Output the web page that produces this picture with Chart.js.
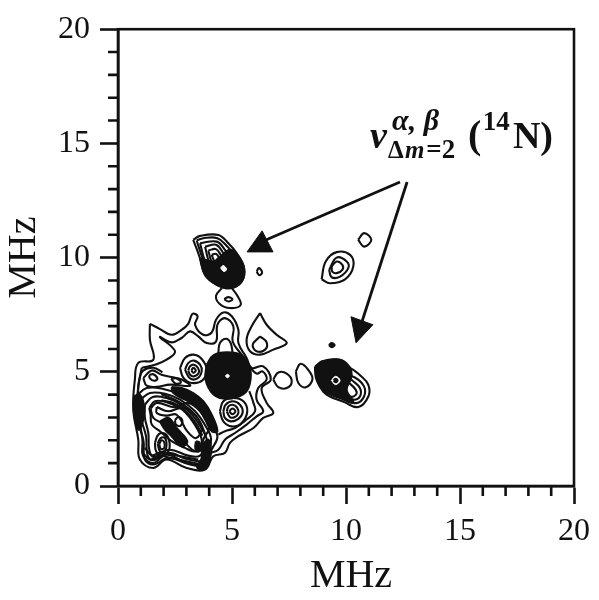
<!DOCTYPE html>
<html>
<head>
<meta charset="utf-8">
<title>MHz contour</title>
<script src="https://cdn.jsdelivr.net/npm/chart.js@4"></script>
<style>
  html, body { margin: 0; padding: 0; background: #fff; }
  canvas { display: block; }
</style>
</head>
<body>
<canvas id="grafico" width="599" height="600"></canvas>
<script>
// axis values
const majorTicks = [0, 5, 10, 15, 20];
const minorTicks = [1, 2, 3, 4, 6, 7, 8, 9, 11, 12, 13, 14, 16, 17, 18, 19];
const axisTitle = 'MHz';

// contour lines, [MHz, MHz]
// low frequency region
const outerContour = [[1.40,7.10],[1.84,6.87],[2.35,6.62],[2.79,6.84],[3.08,7.10],[3.27,7.54],[3.49,7.43],[3.38,7.06],[3.74,6.62],[4.11,6.72],[4.30,7.28],[4.62,7.60],[4.99,7.43],[5.28,6.84],[5.28,6.26],[5.64,5.60],[5.86,5.17],[6.37,5.24],[6.70,4.66],[6.30,4.29],[6.52,3.64],[6.81,3.20],[6.37,2.98],[5.94,2.54],[5.28,2.18],[4.91,1.89],[4.69,1.45],[4.18,1.30],[3.82,0.72],[3.01,0.79],[2.13,1.16],[1.55,0.79],[0.96,1.16],[0.89,2.03],[0.67,3.34],[0.74,4.66],[0.89,5.39],[1.55,5.53],[1.40,6.40],[1.40,7.10]];
const secondContour = [[1.04,5.17],[1.62,5.31],[2.13,5.53],[2.50,5.90],[1.84,6.52],[2.35,6.29],[2.79,6.48],[3.16,6.77],[3.52,6.55],[3.89,6.26],[4.30,6.33],[4.36,7.06],[4.69,7.35],[5.06,6.99],[5.03,6.33],[5.42,5.75],[5.72,5.31],[6.08,4.92],[6.34,5.02],[6.52,4.66],[6.15,4.29],[6.08,3.78],[6.37,3.27],[6.08,3.05],[5.64,2.69],[5.13,2.32],[4.69,2.03],[4.40,1.59],[3.96,1.38],[3.67,0.94],[3.01,1.01],[2.13,1.37],[1.55,1.01],[1.11,1.30],[1.07,2.03],[0.89,3.34],[0.89,4.36],[1.04,5.17]];
const rightInner = [[5.76,4.15],[5.94,3.64],[6.01,3.27],[5.64,2.91],[5.13,2.54],[4.69,2.40],[4.40,2.25]];
const aboveBlob = [[4.40,5.82],[4.47,6.26],[4.74,6.45],[4.94,6.26],[5.03,5.82]];
const leftEdge = [[0.85,4.00],[0.95,4.70],[1.10,5.05],[1.55,5.18],[1.95,4.98]];
const leftLobe = [[1.11,4.73],[1.48,5.06],[1.91,4.87],[2.35,4.77],[2.79,4.66],[3.16,4.39],[2.28,4.44],[1.70,4.34],[1.26,4.39],[1.11,4.73]];
const leftSpot = [[1.37,4.86],[1.55,4.89],[1.73,4.69],[1.58,4.61],[1.40,4.71],[1.37,4.86]];
const midSpot = [[2.33,4.69],[2.57,4.71],[2.76,4.54],[2.53,4.48],[2.33,4.69]];
const peakA1 = [[2.72,5.17],[2.94,5.60],[3.30,5.75],[3.67,5.56],[3.89,5.09],[3.71,4.63],[3.23,4.51],[2.87,4.73],[2.72,5.17]];
const peakA2 = [[2.94,5.09],[3.08,5.38],[3.33,5.49],[3.60,5.31],[3.67,5.02],[3.48,4.71],[3.16,4.71],[2.94,5.09]];
const peakA3 = [[3.08,5.06],[3.16,5.24],[3.33,5.31],[3.51,5.17],[3.54,4.95],[3.33,4.80],[3.16,4.87],[3.08,5.06]];
const peakA4 = [[3.22,5.06],[3.30,5.17],[3.41,5.06],[3.30,4.96],[3.22,5.06]];
const peakB1 = [[4.47,3.27],[4.62,3.71],[5.06,3.85],[5.50,3.71],[5.67,3.27],[5.42,2.76],[4.99,2.61],[4.62,2.83],[4.47,3.27]];
const peakB2 = [[4.62,3.27],[4.72,3.56],[5.03,3.71],[5.35,3.56],[5.47,3.23],[5.28,2.94],[4.94,2.83],[4.69,2.98],[4.62,3.27]];
const peakB3 = [[4.77,3.27],[4.85,3.49],[5.06,3.55],[5.23,3.42],[5.28,3.20],[5.13,3.02],[4.91,3.02],[4.77,3.27]];
const peakB4 = [[4.88,3.27],[5.01,3.39],[5.15,3.27],[5.01,3.14],[4.88,3.27]];
const rightRing = [[6.81,4.66],[7.03,4.97],[7.40,4.92],[7.62,4.58],[7.40,4.29],[7.03,4.33],[6.81,4.66]];
const triangleOuter = [[6.23,7.57],[6.52,7.06],[6.96,6.62],[7.40,6.26],[6.81,5.97],[6.23,5.75],[5.79,5.90],[5.64,6.41],[5.86,6.99],[6.23,7.57]];
const triangleInner = [[6.23,6.55],[6.52,6.29],[6.45,5.97],[6.08,5.90],[5.91,6.19],[6.23,6.55]];
const peakC1 = [[1.62,1.89],[1.77,2.25],[2.06,2.29],[2.25,1.96],[2.21,1.52],[1.91,1.33],[1.67,1.52],[1.62,1.89]];
const peakC2 = [[1.74,1.86],[1.87,2.10],[2.06,2.10],[2.13,1.81],[2.06,1.56],[1.84,1.52],[1.74,1.86]];
const peakC3 = [[1.81,1.84],[1.91,2.00],[2.03,1.91],[2.03,1.67],[1.88,1.62],[1.81,1.84]];
const holeRing = [[2.50,2.88],[2.65,3.02],[2.82,2.88],[2.75,2.64],[2.54,2.69],[2.50,2.88]];
const ringA = [[0.79,3.93],[1.26,4.29],[1.99,4.25],[2.72,4.00],[3.45,3.49],[4.04,2.76],[4.36,2.18],[4.11,1.59],[3.89,0.94],[3.16,0.94],[2.21,1.23],[1.55,0.94],[1.18,1.16],[1.11,2.03],[0.79,3.05],[0.79,3.93]];
const ringB = [[0.99,3.78],[1.40,4.07],[2.06,4.04],[2.72,3.78],[3.38,3.27],[3.89,2.54],[4.08,2.03],[3.82,1.16],[3.08,1.16],[2.21,1.45],[1.55,1.13],[1.29,1.37],[1.23,2.18],[0.99,3.05],[0.99,3.78]];
const ringC = [[1.18,3.56],[1.52,3.90],[2.13,3.85],[2.75,3.56],[3.28,3.08],[3.74,2.40],[3.89,1.96],[3.60,1.33],[3.08,1.33],[2.25,1.59],[1.55,1.27],[1.37,1.59],[1.33,2.32],[1.18,2.98],[1.18,3.56]];
const ringD = [[1.37,3.42],[1.62,3.71],[2.16,3.66],[2.79,3.37],[3.16,2.98],[3.57,2.32],[3.67,1.89],[3.38,1.52],[2.94,1.67],[2.35,1.96],[1.84,2.40],[1.48,2.69],[1.43,3.12],[1.37,3.42]];
const ringE = [[1.43,3.39],[1.70,3.64],[2.50,3.45],[3.08,3.64],[3.60,3.27],[4.01,2.62],[3.74,2.03],[3.67,1.60],[3.38,1.52],[2.94,1.89],[2.43,2.40],[1.92,2.76],[1.55,2.98],[1.43,3.39]];
const holeContour = [[1.70,3.46],[2.21,3.27],[2.79,3.42],[3.30,3.20],[3.67,2.54],[3.42,2.10],[3.04,2.39],[2.57,3.12],[2.13,3.08],[1.70,3.20],[1.70,3.46]];
const bottomWave1 = [[1.04,1.52],[1.40,1.16],[1.84,1.31],[2.43,1.20],[3.08,1.06],[3.52,0.97]];
const bottomWave2 = [[1.18,1.67],[1.48,1.35],[1.84,1.45],[2.50,1.35],[3.08,1.23],[3.52,1.16]];
const bandUp1 = [[1.90,4.02],[2.60,3.72],[3.15,3.35],[3.60,2.80],[3.85,2.20]];
const bandUp2 = [[1.90,3.75],[2.50,3.60],[3.05,3.20],[3.45,2.70],[3.70,2.20]];

// upper left peak
const upperOuter = [[3.30,10.78],[3.60,10.95],[4.40,10.99],[4.84,10.63],[5.21,10.19],[5.53,9.54],[5.42,8.95],[4.91,8.66],[4.33,8.81],[3.82,9.24],[3.57,10.05],[3.30,10.78]];
const upperRing2 = [[3.45,10.75],[3.74,10.85],[4.36,10.85],[4.77,10.51],[5.13,10.05],[5.28,9.46],[4.91,8.81],[4.18,9.03],[3.74,9.90],[3.45,10.75]];
const upperRing3 = [[3.60,10.63],[4.33,10.70],[4.69,10.34],[5.06,9.75],[4.77,9.03],[4.18,9.17],[3.82,9.83],[3.60,10.63]];
const upperRing4 = [[3.82,10.48],[4.30,10.56],[4.62,10.19],[4.91,9.68],[4.62,9.17],[4.18,9.39],[3.96,9.90],[3.82,10.48]];
const upperRing5 = [[3.96,10.31],[4.30,10.37],[4.55,10.05],[4.84,9.68],[4.55,9.24],[4.18,9.61],[3.96,10.31]];
const upperRing6 = [[4.11,10.12],[4.30,10.16],[4.50,9.90],[4.77,9.61],[4.55,9.32],[4.26,9.75],[4.11,10.12]];
const neckLobe = [[4.55,8.66],[4.30,8.33],[4.45,7.98],[4.91,7.79],[5.38,7.93],[5.21,8.37],[4.99,8.66]];
const neckInner = [[4.66,8.18],[4.84,8.27],[5.02,8.18],[4.84,8.08],[4.66,8.18]];
const tinySpot = [[6.08,9.39],[6.18,9.54],[6.32,9.35],[6.20,9.23],[6.08,9.39]];

// isolated peaks on the right
const midOuter = [[8.93,9.05],[9.11,9.83],[9.59,10.24],[10.18,10.12],[10.32,9.61],[9.96,9.05],[9.30,8.88],[8.93,9.05]];
const midRing = [[9.26,9.46],[9.59,10.00],[10.03,9.83],[10.10,9.54],[9.74,9.17],[9.37,9.14],[9.26,9.46]];
const midInner = [[9.37,9.61],[9.59,9.83],[9.84,9.68],[9.84,9.46],[9.59,9.32],[9.40,9.39],[9.37,9.61]];
const smallRing = [[10.53,10.78],[10.80,11.07],[11.11,10.78],[10.80,10.48],[10.53,10.78]];

// lower right peak
const lowerRing1 = [[8.93,5.45],[9.73,5.53],[10.14,5.21],[10.64,4.83],[10.98,4.43],[10.98,3.92],[10.54,3.46],[9.95,3.66],[9.00,4.14],[8.64,5.16],[8.93,5.45]];
const lowerRing2 = [[9.73,5.00],[10.39,4.75],[10.79,4.36],[10.79,3.92],[10.46,3.63],[9.95,3.85],[9.73,5.00]];
const lowerRing3 = [[10.24,4.65],[10.61,4.29],[10.61,3.92],[10.32,3.78],[9.95,4.00],[9.73,4.51],[10.24,4.65]];
const lowerRing4 = [[10.10,4.55],[10.43,4.21],[10.43,3.99],[10.17,3.92],[9.88,4.21],[10.10,4.55]];
const besideRing = [[7.80,5.02],[8.01,5.35],[8.34,5.09],[8.53,4.68],[8.24,4.32],[7.91,4.51],[7.80,5.02]];

// areas where the contours run together and print solid
const centerBlob = [[3.89,5.31],[4.18,5.72],[4.77,5.85],[5.42,5.72],[5.78,5.20],[5.78,4.48],[5.50,4.02],[4.77,3.82],[4.18,4.02],[3.84,4.66],[3.89,5.31]];
const upperCore = [[3.60,9.97],[4.18,9.83],[4.40,9.97],[4.91,10.34],[5.23,10.12],[5.53,9.54],[5.42,8.95],[4.91,8.66],[4.33,8.81],[3.82,9.24],[3.60,9.97]];
const lowerCore = [[8.64,5.16],[8.93,5.45],[9.73,5.53],[10.14,5.23],[10.24,4.80],[10.03,4.21],[10.32,3.66],[9.73,3.85],[9.08,4.14],[8.71,4.65],[8.64,5.16]];
const ridgeUpper = [[2.35,4.33],[2.79,4.29],[3.30,4.07],[3.74,3.71],[4.11,3.12],[4.36,2.40],[4.11,2.40],[3.82,2.91],[3.45,3.49],[2.94,3.78],[2.43,4.07],[2.35,4.33]];
const ridgeLeft = [[0.70,3.93],[0.96,4.00],[1.14,3.49],[1.07,2.76],[0.89,2.47],[0.70,3.20],[0.70,3.93]];
const ridgeDiag = [[1.84,2.83],[2.21,2.98],[2.57,2.54],[3.04,1.96],[2.79,1.74],[2.35,2.18],[2.06,2.47],[1.84,2.83]];
const ridgeLower = [[3.67,1.74],[3.96,2.03],[4.06,1.45],[3.89,0.82],[3.48,0.79],[3.67,1.23],[3.67,1.74]];
const darkSpot = [[3.42,1.96],[3.57,1.91],[3.60,1.67],[3.49,1.52],[3.39,1.67],[3.42,1.96]];
const specDot = [[9.25,6.17],[9.37,6.26],[9.50,6.17],[9.37,6.08],[9.25,6.17]];

// white centres inside the solid areas
const centerHole = [[4.71,4.82],[4.80,4.89],[4.88,4.82],[4.80,4.74],[4.71,4.82]];
const upperHole = [[4.50,9.55],[4.62,9.65],[4.76,9.49],[4.65,9.39],[4.50,9.55]];
const lowerHole = [[9.36,4.62],[9.54,4.80],[9.74,4.62],[9.54,4.44],[9.36,4.62]];
const lowerHoleDot = [[9.46,4.62],[9.54,4.69],[9.63,4.62],[9.54,4.54],[9.46,4.62]];

// arrows
const arrowShaft1 = [[12.37,13.31],[6.00,10.56]];
const arrowShaft2 = [[12.68,13.31],[10.70,7.19]];
const arrowHead1 = [[5.66,10.25],[6.32,11.17],[6.80,10.25],[5.66,10.25]];
const arrowHead2 = [[10.44,6.27],[10.22,7.41],[11.18,7.06],[10.44,6.27]];

const linhas = [outerContour, secondContour, rightInner, aboveBlob, leftEdge, leftLobe, leftSpot, midSpot,
  peakA1, peakA2, peakA3, peakA4, peakB1, peakB2, peakB3, peakB4, rightRing, triangleOuter, triangleInner,
  peakC1, peakC2, peakC3, holeRing, ringA, ringB, ringC, ringD, ringE, holeContour, bottomWave1, bottomWave2, bandUp1, bandUp2,
  upperOuter, upperRing2, upperRing3, upperRing4, upperRing5, upperRing6, neckLobe, neckInner, tinySpot,
  midOuter, midRing, midInner, smallRing, lowerRing1, lowerRing2, lowerRing3, lowerRing4, besideRing];
const solidos = [centerBlob, upperCore, lowerCore, ridgeUpper, ridgeLeft, ridgeDiag, ridgeLower, darkSpot, specDot];
const buracos = [centerHole, upperHole, lowerHole];
const setas = [arrowHead1, arrowHead2];
const hastes = [arrowShaft1, arrowShaft2];

const PRETO = '#111111';

function serie (pontos, estilo) {
  return Object.assign({
    data: pontos.map(p => ({ x: p[0], y: p[1] })),
    showLine: true,
    pointRadius: 0,
    borderColor: PRETO,
    borderWidth: 2.1,
    tension: 0.4,
    fill: false
  }, estilo);
}

// first dataset ends up on top, so the list is reversed at the end
let datasets = [];
linhas.forEach(l => datasets.push(serie(l)));
solidos.forEach(l => datasets.push(serie(l, { fill: 'shape', backgroundColor: PRETO })));
buracos.forEach(l => datasets.push(serie(l, { fill: 'shape', backgroundColor: '#fff', borderColor: '#fff', borderWidth: 1 })));
datasets.push(serie(lowerHoleDot, { fill: 'shape', backgroundColor: PRETO }));
hastes.forEach(l => datasets.push(serie(l, { tension: 0, borderWidth: 2.8 })));
setas.forEach(l => datasets.push(serie(l, { tension: 0, fill: 'shape', backgroundColor: PRETO, borderWidth: 1 })));
datasets.reverse();

// label with the sub and superscripts, anchored in MHz
const pedacosRotulo = [
  { t: 'ν', x: 11.05, y: 14.80, f: 'italic bold 38px "Liberation Serif"' },
  { t: 'α, β', x: 12.02, y: 15.59, f: 'italic bold 30px "Liberation Serif"' },
  { t: 'Δ', x: 11.84, y: 14.36, f: 'bold 25px "Liberation Serif"' },
  { t: 'm', x: 12.59, y: 14.36, f: 'italic bold 25px "Liberation Serif"' },
  { t: '=2', x: 13.52, y: 14.36, f: 'bold 27px "Liberation Serif"' },
  { t: '(', x: 15.35, y: 14.80, f: 'bold 40px "Liberation Serif"' },
  { t: '14', x: 16.00, y: 15.59, f: 'bold 27px "Liberation Serif"' },
  { t: 'N)', x: 17.32, y: 14.80, f: 'bold 38px "Liberation Serif"' }
];

const moldura = {
  id: 'moldura',
  afterDraw (chart) {
    const { ctx, chartArea: a, scales } = chart;
    ctx.save();
    ctx.strokeStyle = PRETO;
    ctx.lineWidth = 2.6;
    ctx.strokeRect(a.left, a.top, a.right - a.left, a.bottom - a.top);
    // minor ticks
    ctx.beginPath();
    minorTicks.forEach(v => {
      const px = scales.x.getPixelForValue(v);
      ctx.moveTo(px, a.bottom);
      ctx.lineTo(px, a.bottom + 10);
      const py = scales.y.getPixelForValue(v);
      ctx.moveTo(a.left, py);
      ctx.lineTo(a.left - 10, py);
    });
    ctx.stroke();
    // annotation
    ctx.fillStyle = PRETO;
    ctx.textBaseline = 'alphabetic';
    ctx.textAlign = 'left';
    pedacosRotulo.forEach(p => {
      ctx.font = p.f;
      ctx.fillText(p.t, scales.x.getPixelForValue(p.x), scales.y.getPixelForValue(p.y));
    });
    ctx.restore();
  }
};

function eixo () {
  return {
    type: 'linear',
    min: 0,
    max: 20,
    afterBuildTicks: s => { s.ticks = majorTicks.map(v => ({ value: v })); },
    ticks: {
      color: PRETO,
      padding: 8,
      maxRotation: 0,
      font: { family: '"Liberation Serif"', size: 32 }
    },
    grid: { drawOnChartArea: false, tickLength: 18, tickWidth: 2.6, tickColor: PRETO },
    border: { color: PRETO, width: 2.6 },
    title: {
      display: true,
      text: axisTitle,
      color: PRETO,
      padding: 0,
      font: { family: '"Liberation Serif"', size: 40 }
    }
  };
}

const eixoX = eixo();
eixoX.title.text = ' ' + axisTitle;
eixoX.afterFit = s => { s.height = 114; };
const eixoY = eixo();
eixoY.ticks.padding = 10;
eixoY.afterFit = s => { s.width = 118; };

new Chart(document.getElementById('grafico'), {
  type: 'scatter',
  data: { datasets: datasets },
  options: {
    responsive: false,
    animation: false,
    layout: { padding: { top: 29, right: 25, left: 0, bottom: 0 } },
    plugins: { legend: { display: false }, tooltip: { enabled: false } },
    scales: { x: eixoX, y: eixoY }
  },
  plugins: [moldura]
});
</script>
</body>
</html>
